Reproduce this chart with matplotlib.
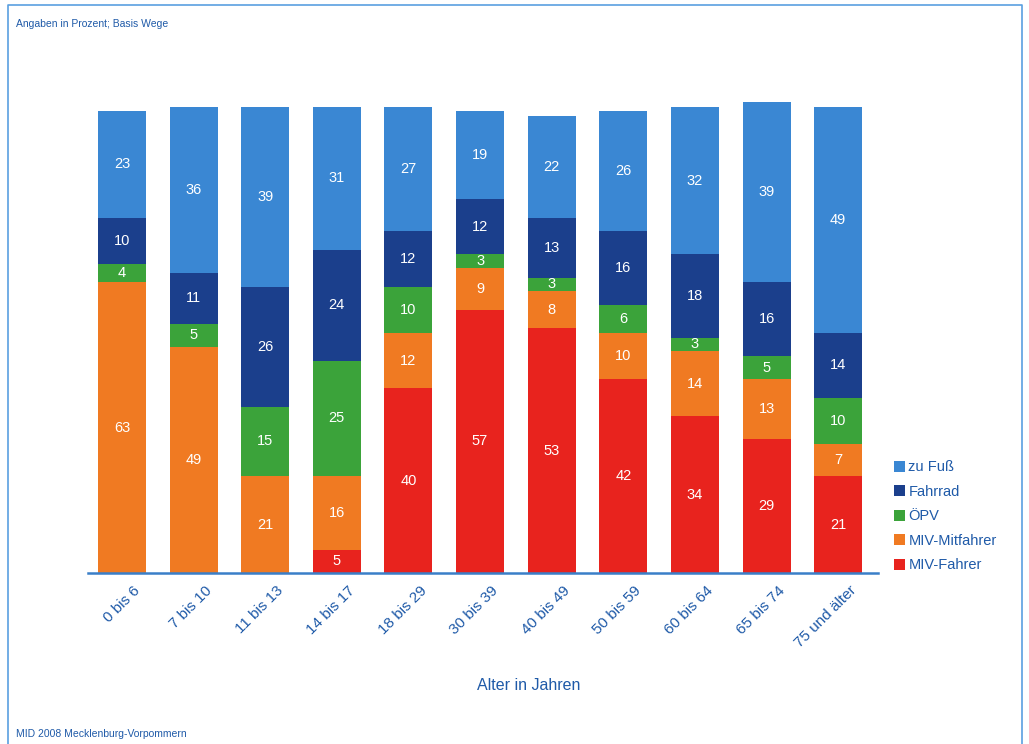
import matplotlib
matplotlib.use("Agg")
import matplotlib.pyplot as plt
import matplotlib.transforms as mtransforms
from matplotlib.lines import Line2D
import numpy as np

plt.rcParams['font.family'] = ['Liberation Sans', 'DejaVu Sans']

categories = ["0 bis 6", "7 bis 10", "11 bis 13", "14 bis 17", "18 bis 29",
              "30 bis 39", "40 bis 49", "50 bis 59", "60 bis 64", "65 bis 74",
              "75 und älter"]
miv_fahrer = [0, 0, 0, 5, 40, 57, 53, 42, 34, 29, 21]
miv_mitfahrer = [63, 49, 21, 16, 12, 9, 8, 10, 14, 13, 7]
oepv = [4, 5, 15, 25, 10, 3, 3, 6, 3, 5, 10]
fahrrad = [10, 11, 26, 24, 12, 12, 13, 16, 18, 16, 14]
zu_fuss = [23, 36, 39, 31, 27, 19, 22, 26, 32, 39, 49]

series = [
    ("MIV-Fahrer", miv_fahrer, "#e8231e"),
    ("MIV-Mitfahrer", miv_mitfahrer, "#f07a22"),
    ("ÖPV", oepv, "#3ba33a"),
    ("Fahrrad", fahrrad, "#1b3f8c"),
    ("zu Fuß", zu_fuss, "#3a87d3"),
]

text_blue = "#1f5aa8"

fig = plt.figure(figsize=(10.29, 7.44), dpi=100)
# Frame around the chart (left, top and right edges)
frame_x = [0.008, 0.008, 0.993, 0.993]
frame_y = [0.0, 0.993, 0.993, 0.0]
fig.lines.append(Line2D(frame_x, frame_y, transform=fig.transFigure,
                        color="#5aa0e0", linewidth=1.2))

ax = fig.add_axes([0.0855, 0.2298, 0.768, 0.633])
x = np.arange(len(categories))
bottom = np.zeros(len(categories))
handles = {}
for name, vals, color in series:
    vals = np.array(vals, dtype=float)
    bars = ax.bar(x, vals, width=0.67, bottom=bottom, color=color, label=name)
    handles[name] = bars
    for xi, v, b in zip(x, vals, bottom):
        if v > 0:
            ax.text(xi, b + v / 2, f"{int(v)}", ha="center", va="center",
                    color="white", fontsize=10.5)
    bottom += vals

ax.set_xlim(-0.475, 10.56)
ax.set_ylim(0, 102)
ax.yaxis.set_visible(False)
for s in ["top", "right", "left"]:
    ax.spines[s].set_visible(False)
ax.spines["bottom"].set_color("#3a7fc8")
ax.spines["bottom"].set_linewidth(1.8)
ax.tick_params(axis="x", length=0, pad=6)
ax.set_xticks(x)
ax.set_xticklabels(categories, rotation=45, ha="right", rotation_mode="anchor",
                   color=text_blue, fontsize=11)
offset = mtransforms.ScaledTranslation(0.11, -0.02, fig.dpi_scale_trans)
for lbl in ax.get_xticklabels():
    lbl.set_transform(lbl.get_transform() + offset)

ax.set_xlabel("Alter in Jahren", color=text_blue, fontsize=11.5)
ax.xaxis.set_label_coords(0.558, -0.222)

order = ["zu Fuß", "Fahrrad", "ÖPV", "MIV-Mitfahrer", "MIV-Fahrer"]
leg = fig.legend([handles[n] for n in order], order, loc="upper left",
                 bbox_to_anchor=(0.863, 0.389), frameon=False, fontsize=10.5,
                 handlelength=0.75, handleheight=0.75, handletextpad=0.25,
                 labelspacing=0.72, borderaxespad=0)
for t in leg.get_texts():
    t.set_color(text_blue)

fig.text(0.016, 0.968, "Angaben in Prozent; Basis Wege", color=text_blue,
         fontsize=7.5, ha="left", va="center")
fig.text(0.016, 0.013, "MID 2008 Mecklenburg-Vorpommern", color=text_blue,
         fontsize=7.5, ha="left", va="center")

fig.savefig("out.png", dpi=100)
